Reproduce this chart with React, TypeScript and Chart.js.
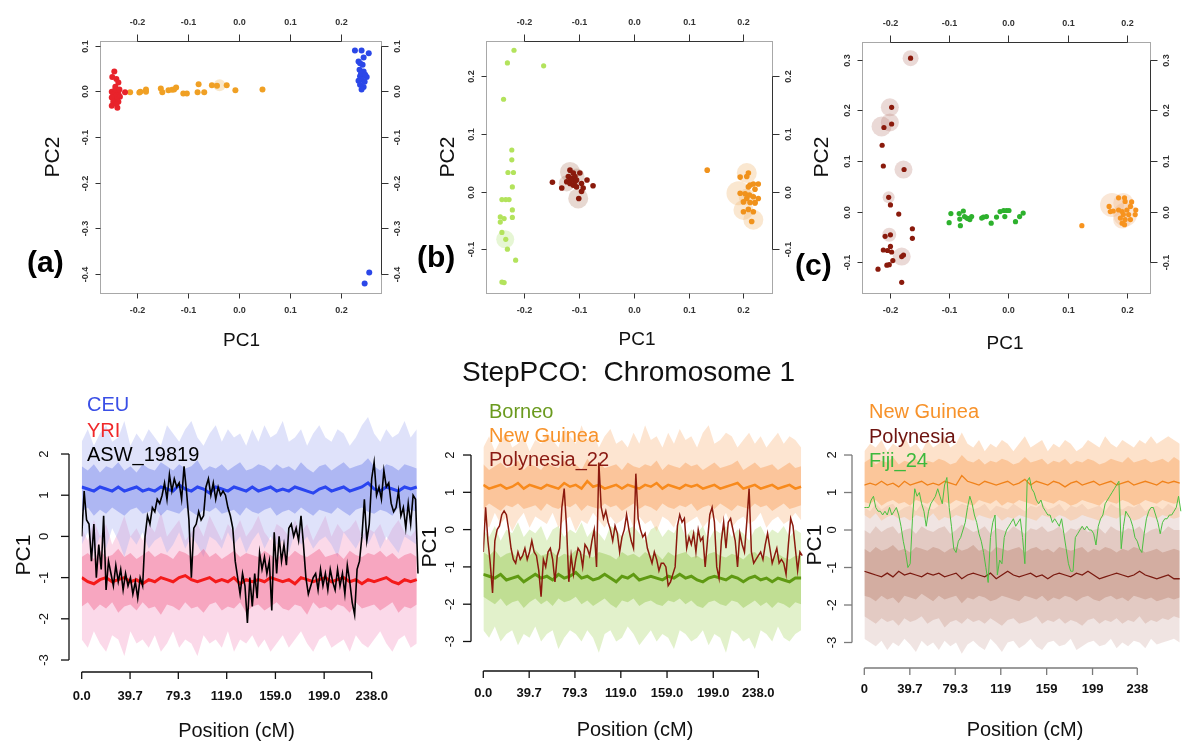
import React, { useEffect, useRef } from "react";
import { Chart, registerables } from "chart.js";
Chart.register(...registerables);

const FONT = '"Liberation Sans", Arial, Helvetica, sans-serif';

// ---------- sampling positions (cM) ----------
const seq = (start: number, step: number, n: number) =>
  Array.from({ length: n }, (_, i) => +(start + i * step).toFixed(2));
const BAND_POS = seq(0, 5, 56);
const LINE_POS = seq(0, 2, 139);

// ---------- scatter tick values ----------
const X_TICKS = [-0.2, -0.1, 0.0, 0.1, 0.2];
const A_Y_TICKS = [-0.4, -0.3, -0.2, -0.1, 0.0, 0.1];
const B_Y_TICKS = [-0.1, 0.0, 0.1, 0.2];
const C_Y_TICKS = [-0.1, 0.0, 0.1, 0.2, 0.3];

// ---------- panel (a) ----------
const A_YRI_X = [-0.244, -0.248, -0.240, -0.236, -0.242, -0.249, -0.239, -0.246, -0.236, -0.242, -0.249, -0.233, -0.239, -0.246, -0.236, -0.249, -0.240, -0.238, -0.223, -0.242, -0.234];
const A_YRI_Y = [0.043, 0.031, 0.027, 0.019, 0.010, -0.001, -0.001, -0.007, -0.005, -0.012, -0.014, -0.012, -0.019, -0.023, -0.023, -0.032, -0.028, -0.036, -0.002, 0.004, 0.004];
const A_ASW_X = [-0.213, -0.195, -0.193, -0.182, -0.182, -0.153, -0.150, -0.138, -0.131, -0.127, -0.123, -0.109, -0.102, -0.079, -0.081, -0.068, -0.053, -0.043, -0.024, -0.007, 0.046];
const A_ASW_Y = [-0.002, -0.003, -0.001, 0.004, -0.001, 0.006, -0.002, 0.002, 0.003, 0.004, 0.008, -0.005, -0.005, 0.015, -0.002, -0.002, 0.013, 0.012, 0.013, 0.002, 0.004];
const A_ASW_HALO_X = [-0.038];
const A_ASW_HALO_Y = [0.013];
const A_CEU_X = [0.227, 0.240, 0.254, 0.234, 0.244, 0.237, 0.242, 0.236, 0.244, 0.237, 0.250, 0.240, 0.234, 0.246, 0.237, 0.244, 0.240, 0.239, 0.247, 0.255, 0.246];
const A_CEU_Y = [0.089, 0.089, 0.083, 0.065, 0.074, 0.061, 0.058, 0.047, 0.043, 0.033, 0.031, 0.026, 0.023, 0.021, 0.014, 0.009, 0.004, 0.039, 0.036, -0.397, -0.421];

// ---------- panel (b) ----------
const B_BOR_X = [-0.218, -0.230, -0.164, -0.237, -0.222, -0.222, -0.229, -0.219, -0.221, -0.240, -0.233, -0.227, -0.221, -0.221, -0.243, -0.236, -0.243, -0.240, -0.233, -0.230, -0.215, -0.240, -0.236];
const B_BOR_Y = [0.245, 0.223, 0.218, 0.160, 0.072, 0.055, 0.033, 0.033, 0.008, -0.014, -0.014, -0.014, -0.032, -0.045, -0.044, -0.047, -0.053, -0.071, -0.083, -0.100, -0.119, -0.157, -0.158];
const B_BOR_HALO_X = [-0.234];
const B_BOR_HALO_Y = [-0.083];
const B_POL_X = [-0.148, -0.131, -0.116, -0.110, -0.119, -0.113, -0.107, -0.104, -0.122, -0.116, -0.110, -0.104, -0.098, -0.095, -0.092, -0.085, -0.074, -0.100, -0.095, -0.107, -0.115];
const B_POL_Y = [0.016, 0.006, 0.037, 0.032, 0.026, 0.023, 0.026, 0.020, 0.017, 0.014, 0.011, 0.008, 0.032, 0.014, 0.006, 0.020, 0.010, -0.012, 0.000, 0.017, 0.020];
const B_POL_HALO_X = [-0.116, -0.104, -0.101, -0.122];
const B_POL_HALO_Y = [0.034, 0.026, -0.012, 0.014];
const B_NG_X = [0.134, 0.194, 0.209, 0.206, 0.212, 0.218, 0.227, 0.221, 0.194, 0.203, 0.211, 0.218, 0.227, 0.206, 0.200, 0.212, 0.221, 0.209, 0.200, 0.218, 0.215, 0.221, 0.209];
const B_NG_Y = [0.037, 0.025, 0.032, 0.026, 0.011, 0.013, 0.013, 0.004, -0.003, -0.004, -0.006, -0.009, -0.012, -0.012, -0.018, -0.019, -0.019, -0.031, -0.035, -0.035, -0.052, -0.020, 0.008];
const B_NG_HALO_X = [0.206, 0.191, 0.200, 0.218, 0.206];
const B_NG_HALO_Y = [0.032, -0.003, -0.032, -0.049, -0.009];

// ---------- panel (c) ----------
const C_POL_X = [-0.165, -0.197, -0.197, -0.210, -0.213, -0.211, -0.176, -0.202, -0.199, -0.185, -0.162, -0.162, -0.199, -0.208, -0.211, -0.204, -0.199, -0.197, -0.195, -0.205, -0.201, -0.177, -0.180, -0.220, -0.180];
const C_POL_Y = [0.303, 0.206, 0.173, 0.166, 0.131, 0.090, 0.083, 0.028, 0.013, -0.005, -0.034, -0.053, -0.046, -0.049, -0.076, -0.077, -0.069, -0.080, -0.097, -0.106, -0.105, -0.086, -0.089, -0.114, -0.140];
const C_POL_HALO_X = [-0.165, -0.200, -0.200, -0.214, -0.177, -0.202, -0.201, -0.180];
const C_POL_HALO_Y = [0.303, 0.206, 0.176, 0.168, 0.083, 0.028, -0.046, -0.089];
const C_FIJ_X = [-0.100, -0.097, -0.083, -0.082, -0.076, -0.074, -0.070, -0.068, -0.065, -0.062, -0.081, -0.045, -0.042, -0.037, -0.029, -0.020, -0.014, -0.008, -0.006, -0.003, 0.001, 0.012, 0.019, 0.025];
const C_FIJ_Y = [-0.022, -0.004, -0.004, -0.015, 0.001, -0.010, -0.013, -0.014, -0.016, -0.010, -0.028, -0.013, -0.011, -0.010, -0.023, -0.011, 0.000, 0.002, -0.010, 0.002, 0.002, -0.020, -0.010, -0.003];
const C_NG_X = [0.124, 0.170, 0.186, 0.196, 0.197, 0.208, 0.177, 0.186, 0.192, 0.200, 0.206, 0.215, 0.194, 0.203, 0.214, 0.189, 0.197, 0.206, 0.192, 0.196, 0.172];
const C_NG_Y = [-0.028, 0.010, 0.027, 0.027, 0.020, 0.019, 0.001, 0.003, 0.000, 0.003, 0.010, 0.003, -0.006, -0.006, -0.006, -0.013, -0.016, -0.016, -0.023, -0.026, 0.000];
const C_NG_HALO_X = [0.175, 0.194, 0.197, 0.192];
const C_NG_HALO_Y = [0.013, 0.017, -0.006, -0.016];

// ---------- bottom tick labels ----------
const PC_Y_TICKS = [-3, -2, -1, 0, 1, 2];
const POS_TICKS = [0, 39.7, 79.3, 119, 159, 199, 238];
const POS_LABELS_1 = ["0.0", "39.7", "79.3", "119.0", "159.0", "199.0", "238.0"];
const POS_LABELS_2 = ["0", "39.7", "79.3", "119", "159", "199", "238"];

// ---------- panel (d): CEU / YRI / ASW_19819 ----------
const CEU_MEAN = [
  1.20, 1.15, 1.10, 1.20, 1.15, 1.10, 1.20, 1.10,
  1.15, 1.20, 1.10, 1.15, 1.10, 1.20, 1.15, 1.10,
  1.25, 1.15, 1.10, 1.20, 1.15, 1.05, 1.20, 1.15,
  1.10, 1.20, 1.15, 1.10, 1.20, 1.10, 1.15, 1.20,
  1.10, 1.15, 1.10, 1.20, 1.15, 1.10, 1.05, 1.15,
  1.20, 1.10, 1.15, 1.20, 1.10, 1.15, 1.20, 1.30,
  1.15, 1.10, 1.20, 1.15, 1.10, 1.20, 1.15, 1.20];
const CEU_IN_HI = [
  1.70, 1.60, 1.75, 1.55, 1.70, 1.65, 1.80, 1.60,
  1.70, 1.55, 1.75, 1.65, 1.60, 1.80, 1.70, 1.60,
  1.75, 1.65, 1.70, 1.85, 1.60, 1.70, 1.65, 1.75,
  1.60, 1.70, 1.80, 1.60, 1.65, 1.75, 1.70, 1.60,
  1.75, 1.65, 1.70, 1.60, 1.80, 1.65, 1.55, 1.70,
  1.75, 1.60, 1.70, 1.80, 1.65, 1.70, 1.75, 1.90,
  1.70, 1.60, 1.75, 1.70, 1.60, 1.75, 1.70, 1.65];
const CEU_IN_LO = [
  0.60, 0.70, 0.50, 0.65, 0.55, 0.70, 0.60, 0.50,
  0.65, 0.70, 0.55, 0.60, 0.70, 0.50, 0.65, 0.60,
  0.55, 0.70, 0.60, 0.50, 0.65, 0.60, 0.70, 0.55,
  0.60, 0.65, 0.50, 0.70, 0.60, 0.55, 0.65, 0.70,
  0.50, 0.60, 0.65, 0.55, 0.70, 0.60, 0.50, 0.65,
  0.60, 0.55, 0.70, 0.60, 0.50, 0.65, 0.70, 0.60,
  0.55, 0.65, 0.60, 0.50, 0.70, 0.60, 0.65, 0.60];
const CEU_OUT_HI = [
  2.3, 2.6, 2.2, 2.5, 2.7, 2.3, 2.4, 2.8,
  2.2, 2.5, 2.3, 2.6, 2.4, 2.2, 2.7, 2.5,
  2.3, 2.6, 2.8, 2.4, 2.2, 2.5, 2.7, 2.3,
  2.6, 2.4, 2.5, 2.2, 2.6, 2.3, 2.7, 2.4,
  2.5, 2.8, 2.3, 2.4, 2.6, 2.2, 2.5, 2.7,
  2.4, 2.3, 2.6, 2.5, 2.2, 2.4, 2.7, 2.9,
  2.5, 2.3, 2.6, 2.4, 2.5, 2.8, 2.4, 2.6];
const CEU_OUT_LO = [
  -0.2, 0.1, -0.4, 0.0, -0.3, 0.2, -0.1, -0.5,
  0.0, -0.2, 0.1, -0.3, -0.1, 0.0, -0.4, -0.2,
  0.1, -0.3, 0.0, -0.2, -0.5, 0.0, -0.1, -0.3,
  0.1, -0.2, 0.0, -0.4, -0.1, 0.1, -0.3, 0.0,
  -0.2, -0.1, -0.4, 0.1, -0.2, 0.0, -0.3, -0.1,
  0.0, -0.2, -0.5, 0.1, -0.1, -0.3, 0.0, -0.2,
  0.1, -0.3, 0.0, -0.2, -0.4, 0.0, -0.1, -0.2];
const YRI_MEAN = [
  -1.00, -1.10, -1.15, -1.05, -1.00, -1.10, -1.05, -1.00,
  -1.10, -1.05, -1.15, -1.05, -1.10, -1.00, -1.05, -1.10,
  -1.00, -0.95, -1.05, -1.10, -1.05, -1.00, -1.10, -1.05,
  -1.10, -1.00, -1.15, -1.05, -1.10, -1.05, -1.10, -1.00,
  -1.05, -1.10, -1.05, -1.15, -1.00, -1.05, -1.10, -1.05,
  -1.00, -1.10, -1.05, -1.00, -1.10, -1.05, -1.15, -1.05,
  -1.10, -1.05, -1.00, -1.10, -1.15, -1.05, -1.10, -1.05];
const YRI_IN_HI = [
  -0.50, -0.40, -0.55, -0.35, -0.50, -0.45, -0.30, -0.50,
  -0.40, -0.55, -0.45, -0.35, -0.50, -0.40, -0.45, -0.55,
  -0.35, -0.40, -0.50, -0.45, -0.30, -0.50, -0.40, -0.55,
  -0.45, -0.35, -0.50, -0.40, -0.45, -0.50, -0.35, -0.45,
  -0.55, -0.40, -0.50, -0.35, -0.45, -0.50, -0.40, -0.30,
  -0.50, -0.45, -0.40, -0.55, -0.35, -0.45, -0.50, -0.40,
  -0.45, -0.35, -0.50, -0.40, -0.55, -0.45, -0.40, -0.50];
const YRI_IN_LO = [
  -1.70, -1.60, -1.80, -1.65, -1.75, -1.60, -1.85, -1.70,
  -1.65, -1.80, -1.60, -1.75, -1.70, -1.90, -1.65, -1.70,
  -1.80, -1.60, -1.75, -1.70, -1.85, -1.65, -1.60, -1.80,
  -1.70, -1.75, -1.60, -1.85, -1.70, -1.65, -1.80, -1.70,
  -1.60, -1.75, -1.80, -1.65, -1.70, -1.90, -1.60, -1.75,
  -1.70, -1.80, -1.65, -1.70, -1.85, -1.60, -1.75, -1.70,
  -1.65, -1.80, -1.70, -1.60, -1.85, -1.70, -1.75, -1.65];
const YRI_OUT_HI = [
  0.2, -0.1, 0.4, 0.0, 0.3, -0.2, 0.1, 0.5,
  0.0, 0.2, -0.1, 0.3, 0.1, 0.6, 0.0, 0.2,
  0.4, -0.1, 0.1, 0.3, 0.0, 0.5, 0.2, -0.1,
  0.3, 0.1, 0.4, 0.0, 0.2, 0.5, 0.1, -0.1,
  0.3, 0.2, 0.0, 0.4, 0.1, 0.3, -0.1, 0.2,
  0.5, 0.0, 0.3, 0.1, 0.2, 0.4, 0.0, 0.2,
  0.1, 0.3, -0.1, 0.2, 0.4, 0.1, 0.0, 0.2];
const YRI_OUT_LO = [
  -2.5, -2.7, -2.3, -2.6, -2.8, -2.4, -2.5, -2.9,
  -2.3, -2.6, -2.5, -2.7, -2.4, -2.8, -2.6, -2.3,
  -2.7, -2.5, -2.6, -2.9, -2.4, -2.6, -2.5, -2.7,
  -2.3, -2.8, -2.5, -2.6, -2.4, -2.7, -2.5, -2.8,
  -2.6, -2.4, -2.7, -2.5, -2.3, -2.6, -2.8, -2.5,
  -2.4, -2.7, -2.6, -2.5, -2.8, -2.4, -2.6, -2.7,
  -2.5, -2.3, -2.6, -2.8, -2.5, -2.4, -2.7, -2.6];
const ASW_19819 = [
  0.0, 1.1, 0.4, 0.3, -0.6, 0.3, -1.0, -0.2, -0.8, 0.5,
  -1.3, -0.6, -0.9, -1.2, -0.7, -1.1, -0.8, -1.3, -0.9, -1.2,
  -1.0, -1.4, -1.1, -1.5, -1.0, -1.2, 0.0, 0.5, 0.3, 0.7,
  0.6, 0.9, 0.8, 1.0, 1.3, 0.9, 1.5, 1.1, 1.4, 1.2,
  1.3, 0.9, 1.7, 1.1, 0.4, -1.0, 0.2, 0.3, 0.6, 0.4,
  0.5, 1.2, 1.4, 1.0, 1.3, 0.9, 1.2, 1.0, 1.1, 1.0,
  0.7, 0.5, 0.2, -0.6, -1.0, -1.4, -0.9, -1.2, -2.1, -1.0,
  -1.7, -0.9, -1.5, -0.4, -0.8, -0.5, -0.9, -0.6, -1.8, 0.1,
  -0.9, 0.0, -0.6, -0.2, -0.7, 0.2, 0.3, 0.0, 0.2, -0.1,
  0.5, -0.2, -1.0, -1.4, -1.2, -1.0, -0.9, -1.3, -0.8, -1.2,
  -0.9, -1.3, -0.8, -1.1, -1.3, -0.8, -1.2, -0.9, -1.4, -0.7,
  -1.1, -1.6, -1.9, -0.8, -0.6, 0.0, 0.9, -0.1, 0.3, 1.4,
  1.8, 1.0, 1.2, 0.9, 1.6, 1.2, 1.3, 0.8, 0.6, 0.7,
  1.1, 0.5, 0.7, 0.2, 0.8, 0.3, 1.0, 0.9, -0.9];

// ---------- panel (e): Borneo / New Guinea / Polynesia_22 ----------
const NG2_MEAN = [
  1.20, 1.10, 1.15, 1.20, 1.10, 1.15, 1.25, 1.10,
  1.20, 1.15, 1.10, 1.20, 1.15, 1.10, 1.25, 1.15,
  1.20, 1.10, 1.30, 1.15, 1.20, 1.10, 1.15, 1.20,
  1.10, 1.20, 1.15, 1.10, 1.20, 1.15, 1.25, 1.10,
  1.20, 1.15, 1.10, 1.20, 1.15, 1.20, 1.10, 1.15,
  1.20, 1.10, 1.15, 1.20, 1.25, 1.10, 1.15, 1.20,
  1.10, 1.15, 1.20, 1.10, 1.15, 1.20, 1.10, 1.15];
const NG2_IN_HI = [
  1.75, 1.60, 1.70, 1.80, 1.65, 1.70, 1.85, 1.60,
  1.75, 1.70, 1.60, 1.80, 1.70, 1.65, 1.85, 1.70,
  1.75, 1.60, 1.90, 1.70, 1.80, 1.65, 1.70, 1.75,
  1.60, 1.80, 1.70, 1.65, 1.75, 1.70, 1.85, 1.60,
  1.75, 1.70, 1.65, 1.80, 1.70, 1.75, 1.60, 1.70,
  1.80, 1.65, 1.70, 1.75, 1.85, 1.60, 1.70, 1.80,
  1.65, 1.70, 1.75, 1.60, 1.70, 1.80, 1.65, 1.70];
const NG2_IN_LO = [
  0.55, 0.70, 0.60, 0.50, 0.65, 0.60, 0.70, 0.55,
  0.60, 0.65, 0.50, 0.70, 0.60, 0.55, 0.65, 0.60,
  0.70, 0.50, 0.65, 0.60, 0.55, 0.70, 0.60, 0.65,
  0.50, 0.60, 0.70, 0.55, 0.65, 0.60, 0.50, 0.70,
  0.60, 0.55, 0.65, 0.60, 0.70, 0.50, 0.60, 0.65,
  0.55, 0.70, 0.60, 0.50, 0.65, 0.60, 0.55, 0.70,
  0.60, 0.65, 0.50, 0.60, 0.70, 0.55, 0.60, 0.65];
const NG2_OUT_HI = [
  2.2, 2.5, 2.1, 2.4, 2.6, 2.2, 2.3, 2.5,
  2.1, 2.4, 2.3, 2.6, 2.4, 2.2, 2.7, 2.5,
  2.3, 2.8, 2.4, 2.6, 2.2, 2.5, 2.7, 2.3,
  2.4, 2.2, 2.6, 2.3, 2.8, 2.4, 2.5, 2.2,
  2.6, 2.3, 2.7, 2.4, 2.5, 2.2, 2.6, 2.8,
  2.3, 2.4, 2.6, 2.5, 2.2, 2.4, 2.6, 2.3,
  2.5, 2.2, 2.4, 2.6, 2.3, 2.5, 2.4, 2.2];
const NG2_OUT_LO = [
  0.25, 0.05, 0.45, 0.15, 0.35, -0.05, 0.25, 0.45,
  0.05, 0.35, 0.25, 0.15, 0.45, 0.05, 0.25, 0.35,
  -0.05, 0.25, 0.15, 0.45, 0.25, 0.05, 0.35, 0.15,
  0.25, 0.45, 0.05, 0.35, 0.15, 0.25, -0.05, 0.35,
  0.25, 0.05, 0.45, 0.15, 0.25, 0.35, 0.05, 0.25,
  0.35, 0.15, 0.45, 0.05, 0.25, 0.35, 0.15, 0.25,
  0.45, 0.05, 0.25, 0.35, 0.15, 0.25, 0.45, 0.25];
const BOR_MEAN = [
  -1.20, -1.25, -1.30, -1.20, -1.35, -1.30, -1.25, -1.40,
  -1.30, -1.20, -1.30, -1.25, -1.35, -1.20, -1.30, -1.25,
  -1.15, -1.30, -1.25, -1.35, -1.30, -1.20, -1.30, -1.40,
  -1.25, -1.30, -1.20, -1.35, -1.30, -1.25, -1.30, -1.35,
  -1.25, -1.30, -1.20, -1.30, -1.25, -1.35, -1.40, -1.30,
  -1.25, -1.30, -1.35, -1.25, -1.30, -1.40, -1.30, -1.25,
  -1.35, -1.30, -1.40, -1.30, -1.35, -1.40, -1.30, -1.30];
const BOR_IN_HI = [
  -0.60, -0.70, -0.55, -0.75, -0.65, -0.60, -0.80, -0.65,
  -0.70, -0.55, -0.70, -0.65, -0.60, -0.75, -0.65, -0.70,
  -0.55, -0.65, -0.70, -0.75, -0.60, -0.65, -0.70, -0.80,
  -0.60, -0.70, -0.65, -0.75, -0.60, -0.70, -0.65, -0.80,
  -0.60, -0.70, -0.65, -0.60, -0.75, -0.70, -0.80, -0.65,
  -0.60, -0.70, -0.75, -0.65, -0.70, -0.80, -0.65, -0.60,
  -0.75, -0.70, -0.80, -0.65, -0.75, -0.80, -0.70, -0.70];
const BOR_IN_LO = [
  -1.80, -1.90, -2.00, -1.85, -2.05, -1.95, -1.90, -2.10,
  -1.95, -1.85, -2.00, -1.90, -2.05, -1.85, -1.95, -1.90,
  -1.80, -2.00, -1.90, -2.05, -1.95, -1.85, -2.00, -2.10,
  -1.90, -1.95, -1.85, -2.05, -1.95, -1.90, -2.00, -2.05,
  -1.90, -1.95, -1.85, -2.00, -1.90, -2.05, -2.10, -1.95,
  -1.90, -2.00, -2.05, -1.90, -1.95, -2.10, -2.00, -1.90,
  -2.05, -1.95, -2.10, -1.95, -2.00, -2.10, -1.95, -2.00];
const BOR_OUT_HI = [
  0.0, -0.2, 0.1, -0.3, 0.0, -0.1, 0.2, -0.2,
  0.0, -0.1, 0.1, -0.3, 0.0, 0.1, -0.2, 0.0,
  -0.1, 0.2, -0.2, 0.0, -0.1, -0.3, 0.1, 0.0,
  -0.2, 0.0, 0.1, -0.1, -0.3, 0.0, 0.1, -0.2,
  0.0, -0.1, 0.2, -0.2, 0.0, -0.1, 0.1, -0.3,
  0.0, -0.1, 0.1, -0.2, 0.0, -0.1, -0.3, 0.0,
  0.1, -0.2, 0.0, -0.1, 0.1, -0.2, 0.0, -0.1];
const BOR_OUT_LO = [
  -2.7, -2.9, -2.6, -3.0, -2.8, -2.7, -3.1, -2.8,
  -2.9, -2.6, -3.0, -2.8, -2.7, -3.2, -2.9, -2.7,
  -2.8, -3.0, -2.7, -2.9, -3.3, -2.8, -2.7, -3.0,
  -2.9, -2.6, -2.8, -3.1, -2.9, -2.7, -3.0, -2.8,
  -2.9, -3.2, -2.7, -2.8, -3.0, -2.9, -2.7, -3.1,
  -2.8, -2.9, -3.3, -2.7, -2.8, -3.0, -2.9, -3.2,
  -2.7, -2.8, -3.0, -2.6, -2.9, -3.0, -2.8, -2.7];
const POLYNESIA_22 = [
  -0.6, 0.6, -0.3, -0.9, -1.7, -0.3, 0.0, 0.1, 0.4, 0.5,
  0.4, 0.0, -0.5, -0.8, -0.9, -0.6, -0.8, -0.7, -0.5, -0.8,
  -0.6, -0.3, -0.6, -0.7, -1.1, -1.8, -0.8, -1.0, -0.6, -0.5,
  -0.8, -1.4, -0.7, -0.5, 0.6, 1.1, 0.1, -1.4, -0.7, -1.2,
  -0.8, -0.5, -0.6, -1.0, -0.4, -0.5, -0.7, -0.3, 0.0, -1.0,
  1.8, 0.6, 0.3, 0.5, 0.2, 0.0, -0.3, 0.1, -0.1, -0.6,
  -0.2, 0.0, 0.4, 0.0, -0.3, -0.5, 1.5, 0.3, 0.0, -0.2,
  -0.1, -0.5, -0.7, -0.9, -0.6, -0.8, -1.1, -0.9, -0.9, -1.0,
  -1.5, -1.4, -1.2, -1.0, 0.1, 0.4, 0.2, 0.3, -0.5, -0.2,
  -0.4, -0.1, -0.6, 0.0, -0.3, -0.2, -1.0, -0.3, 0.4, 0.6,
  0.2, -1.0, -1.3, -0.3, 0.2, -0.5, 0.2, 0.3, 0.0, -0.3,
  -1.0, -0.1, -0.4, -0.6, 0.2, 1.1, -0.6, -0.9, -0.8, -0.7,
  -0.6, -0.8, -0.4, -0.1, -0.5, -0.9, -0.7, -0.5, -0.9, -0.8,
  -0.9, -1.2, -0.4, 0.3, 0.1, -0.5, -1.1, -0.6, -0.7];

// ---------- panel (f): New Guinea / Polynesia / Fiji_24 ----------
const NG3_MEAN = [
  1.20, 1.25, 1.20, 1.30, 1.20, 1.25, 1.15, 1.30,
  1.20, 1.25, 1.30, 1.20, 1.25, 1.20, 1.30, 1.25,
  1.20, 1.45, 1.30, 1.25, 1.20, 1.30, 1.25, 1.20,
  1.25, 1.30, 1.20, 1.25, 1.35, 1.20, 1.30, 1.25,
  1.20, 1.30, 1.25, 1.15, 1.25, 1.30, 1.20, 1.25,
  1.30, 1.20, 1.25, 1.30, 1.20, 1.25, 1.30, 1.20,
  1.25, 1.30, 1.25, 1.20, 1.30, 1.25, 1.30, 1.25];
const NG3_IN_HI = [
  1.80, 1.90, 1.75, 1.85, 1.80, 1.95, 1.75, 1.85,
  1.80, 1.90, 1.75, 1.85, 1.80, 1.90, 1.85, 1.75,
  1.80, 2.00, 1.85, 1.80, 1.90, 1.75, 1.85, 1.80,
  1.90, 1.85, 1.75, 1.80, 1.95, 1.80, 1.85, 1.90,
  1.75, 1.85, 1.80, 1.90, 1.75, 1.85, 1.80, 1.90,
  1.85, 1.75, 1.80, 1.90, 1.85, 1.80, 1.95, 1.80,
  1.85, 1.90, 1.80, 1.85, 1.90, 1.80, 1.95, 1.85];
const NG3_IN_LO = [
  0.75, 0.70, 0.80, 0.65, 0.75, 0.80, 0.70, 0.75,
  0.65, 0.80, 0.75, 0.70, 0.80, 0.65, 0.75, 0.70,
  0.80, 0.75, 0.70, 0.65, 0.80, 0.75, 0.70, 0.80,
  0.65, 0.75, 0.70, 0.80, 0.75, 0.70, 0.65, 0.80,
  0.75, 0.70, 0.80, 0.75, 0.65, 0.70, 0.80, 0.75,
  0.70, 0.65, 0.80, 0.75, 0.70, 0.80, 0.75, 0.65,
  0.70, 0.80, 0.75, 0.70, 0.80, 0.75, 0.70, 0.75];
const NG3_OUT_HI = [
  2.1, 2.3, 2.2, 2.4, 2.1, 2.3, 2.2, 2.5,
  2.2, 2.3, 2.1, 2.4, 2.2, 2.3, 2.5, 2.2,
  2.3, 2.6, 2.3, 2.2, 2.4, 2.1, 2.3, 2.2,
  2.4, 2.3, 2.1, 2.3, 2.5, 2.2, 2.3, 2.4,
  2.1, 2.3, 2.2, 2.4, 2.3, 2.1, 2.2, 2.4,
  2.3, 2.2, 2.5, 2.3, 2.2, 2.4, 2.3, 2.2,
  2.4, 2.3, 2.5, 2.3, 2.4, 2.5, 2.4, 2.3];
const NG3_OUT_LO = [
  0.40, 0.30, 0.45, 0.25, 0.35, 0.40, 0.30, 0.35,
  0.25, 0.40, 0.35, 0.30, 0.45, 0.25, 0.35, 0.30,
  0.40, 0.35, 0.30, 0.25, 0.40, 0.35, 0.30, 0.40,
  0.25, 0.35, 0.30, 0.40, 0.35, 0.30, 0.25, 0.40,
  0.35, 0.30, 0.40, 0.35, 0.25, 0.30, 0.40, 0.35,
  0.30, 0.25, 0.40, 0.35, 0.30, 0.40, 0.35, 0.25,
  0.30, 0.40, 0.35, 0.30, 0.40, 0.35, 0.30, 0.35];
const POL3_MEAN = [
  -1.10, -1.15, -1.20, -1.25, -1.15, -1.25, -1.10, -1.20,
  -1.15, -1.20, -1.25, -1.15, -1.20, -1.15, -1.25, -1.20,
  -1.15, -1.30, -1.20, -1.15, -1.20, -1.25, -1.15, -1.30,
  -1.20, -1.10, -1.20, -1.25, -1.20, -1.15, -1.25, -1.20,
  -1.30, -1.20, -1.15, -1.20, -1.25, -1.15, -1.20, -1.10,
  -1.20, -1.30, -1.25, -1.20, -1.15, -1.20, -1.25, -1.20,
  -1.10, -1.20, -1.25, -1.30, -1.25, -1.20, -1.30, -1.30];
const POL3_IN_HI = [
  -0.50, -0.60, -0.45, -0.55, -0.50, -0.40, -0.55, -0.50,
  -0.60, -0.45, -0.50, -0.55, -0.45, -0.50, -0.60, -0.50,
  -0.45, -0.55, -0.50, -0.40, -0.55, -0.50, -0.60, -0.45,
  -0.50, -0.55, -0.50, -0.45, -0.60, -0.50, -0.45, -0.55,
  -0.50, -0.60, -0.45, -0.50, -0.55, -0.50, -0.45, -0.60,
  -0.50, -0.55, -0.45, -0.50, -0.60, -0.50, -0.55, -0.45,
  -0.50, -0.60, -0.55, -0.50, -0.60, -0.55, -0.50, -0.55];
const POL3_IN_LO = [
  -1.75, -1.80, -1.90, -1.75, -1.85, -1.80, -1.95, -1.75,
  -1.80, -1.85, -1.70, -1.80, -1.90, -1.75, -1.85, -1.80,
  -1.75, -1.95, -1.80, -1.85, -1.75, -1.80, -1.90, -1.85,
  -1.75, -1.80, -1.85, -1.90, -1.75, -1.80, -1.85, -1.75,
  -1.90, -1.80, -1.85, -1.75, -1.80, -1.90, -1.80, -1.75,
  -1.85, -1.90, -1.80, -1.75, -1.85, -1.80, -1.90, -1.75,
  -1.80, -1.85, -1.80, -1.90, -1.85, -1.80, -1.85, -1.80];
const POL3_MID_HI = [
  0.00, -0.10, 0.10, -0.05, 0.05, 0.10, -0.10, 0.00,
  0.05, -0.10, 0.10, 0.00, -0.05, 0.05, 0.10, -0.10,
  0.00, 0.15, 0.05, -0.05, 0.00, 0.10, -0.10, 0.05,
  0.00, -0.05, 0.10, 0.00, -0.10, 0.05, 0.00, 0.10,
  -0.05, 0.00, 0.10, -0.10, 0.05, 0.00, 0.10, -0.05,
  0.00, 0.05, -0.10, 0.10, 0.00, -0.05, 0.05, 0.00,
  0.10, -0.10, 0.00, 0.05, -0.05, 0.10, 0.00, 0.00];
const POL3_MID_LO = [
  -2.30, -2.40, -2.50, -2.35, -2.45, -2.40, -2.55, -2.35,
  -2.45, -2.40, -2.30, -2.50, -2.40, -2.35, -2.60, -2.45,
  -2.40, -2.50, -2.35, -2.45, -2.40, -2.50, -2.35, -2.45,
  -2.55, -2.40, -2.35, -2.50, -2.45, -2.40, -2.30, -2.50,
  -2.40, -2.45, -2.35, -2.50, -2.40, -2.45, -2.55, -2.40,
  -2.35, -2.50, -2.40, -2.45, -2.35, -2.50, -2.40, -2.45,
  -2.30, -2.50, -2.40, -2.45, -2.35, -2.40, -2.30, -2.35];
const POL3_OUT_HI = [
  0.60, 0.50, 0.70, 0.55, 0.65, 0.70, 0.50, 0.60,
  0.65, 0.50, 0.70, 0.60, 0.55, 0.65, 0.75, 0.50,
  0.60, 0.70, 0.65, 0.55, 0.60, 0.70, 0.50, 0.65,
  0.60, 0.55, 0.70, 0.60, 0.50, 0.65, 0.60, 0.70,
  0.55, 0.60, 0.70, 0.50, 0.65, 0.60, 0.70, 0.55,
  0.60, 0.65, 0.50, 0.70, 0.60, 0.55, 0.65, 0.60,
  0.70, 0.50, 0.60, 0.65, 0.55, 0.70, 0.60, 0.60];
const POL3_OUT_LO = [
  -2.90, -3.00, -3.10, -2.95, -3.20, -3.00, -3.10, -2.90,
  -3.05, -3.25, -2.95, -3.10, -3.00, -3.20, -2.95, -3.10,
  -3.00, -3.30, -3.05, -2.95, -3.10, -3.20, -2.90, -3.05,
  -3.25, -3.00, -2.95, -3.15, -3.05, -2.90, -3.10, -3.20,
  -3.00, -2.95, -3.10, -3.05, -2.90, -3.20, -3.10, -3.00,
  -2.95, -3.10, -3.05, -2.90, -3.15, -3.00, -3.10, -2.95,
  -3.00, -3.15, -2.90, -3.05, -3.00, -2.95, -2.90, -3.00];
const FIJI_24 = [
  0.6, 0.6, 0.6, 0.8, 0.9, 0.6, 0.5, 0.5, 0.4, 0.5,
  0.4, 0.6, 0.4, 0.5, 0.6, 0.4, 0.1, -0.3, -0.6, -1.0,
  -0.9, 0.3, 1.1, 0.9, 1.0, 0.7, 0.5, 0.1, 0.5, 0.7,
  0.8, 0.9, 1.1, 0.9, 0.7, 1.2, 1.4, 0.6, 0.1, -0.5,
  -0.6, -0.3, -0.2, 0.0, 0.2, 0.6, 0.9, 0.7, 0.4, 0.2,
  -0.1, -0.3, -0.6, -1.0, -1.4, -0.2, 0.2, 0.4, -1.2, -0.8,
  -0.9, -0.2, 0.0, 0.1, 0.2, 0.3, 0.1, 0.2, 0.3, -0.2,
  -0.9, 1.3, 1.4, 1.1, 1.0, 0.8, 0.7, 0.8, 0.6, 0.5,
  0.4, 0.4, 0.2, 0.3, 0.2, 0.1, 0.3, -0.1, -0.5, -0.9,
  -1.1, -1.1, -0.2, -0.1, 0.0, 0.1, 0.0, 0.1, 0.0, 0.0,
  -0.1, -0.4, 0.1, 0.3, 0.4, 0.7, 0.8, 0.9, 1.0, 1.1,
  1.2, 1.3, -0.5, 0.1, 0.5, 0.4, 0.3, 0.1, -0.2, -0.3,
  -0.5, -0.6, -0.1, 0.3, 0.5, 0.6, 0.6, 0.4, 0.2, -0.1,
  0.2, 0.3, 0.3, 0.4, 0.4, 0.5, 0.6, 0.9, 0.5];

// ================= helpers =================
const pts = (xs: number[], ys: number[]) => xs.map((x, i) => ({ x, y: ys[i] }));

function seg(ctx: any, x1: number, y1: number, x2: number, y2: number) {
  ctx.beginPath();
  ctx.moveTo(x1, y1);
  ctx.lineTo(x2, y2);
  ctx.stroke();
}
function txt(ctx: any, s: string, x: number, y: number, font: string, color: string, align = "center") {
  ctx.font = font;
  ctx.fillStyle = color;
  ctx.textAlign = align;
  ctx.textBaseline = "middle";
  ctx.fillText(s, x, y);
}
function rtxt(ctx: any, s: string, x: number, y: number, font: string, color: string) {
  ctx.save();
  ctx.translate(x, y);
  ctx.rotate(-Math.PI / 2);
  txt(ctx, s, 0, 0, font, color);
  ctx.restore();
}

// ================= scatter panels =================
const PANEL_A = {
  x: 0, y: 0, w: 400, h: 360,
  area: { l: 100, t: 41, r: 381, b: 293 },
  xr: [-0.272, 0.278], yr: [-0.442, 0.11], yTicks: A_Y_TICKS,
  groups: [
    { xs: A_YRI_X, ys: A_YRI_Y, color: "#e8232b", r: 3 },
    { xs: A_ASW_X, ys: A_ASW_Y, color: "#f0a024", r: 3 },
    { xs: A_CEU_X, ys: A_CEU_Y, color: "#2b47e8", r: 3 },
  ],
  halos: [{ xs: A_ASW_HALO_X, ys: A_ASW_HALO_Y, color: "rgba(240,195,120,0.4)", r: [6] }],
  letter: { text: "(a)", x: 27, y: 264 },
  pc2: { x: 53.5, y: 157 }, pc1: { x: 241.5, y: 341 },
};
const PANEL_B = {
  x: 400, y: 0, w: 400, h: 360,
  area: { l: 486, t: 41, r: 772, b: 293 },
  xr: [-0.269, 0.252], yr: [-0.176, 0.261], yTicks: B_Y_TICKS,
  groups: [
    { xs: B_BOR_X, ys: B_BOR_Y, color: "#b3e35c", r: 2.6 },
    { xs: B_POL_X, ys: B_POL_Y, color: "#8a1a0c", r: 2.8 },
    { xs: B_NG_X, ys: B_NG_Y, color: "#f0921c", r: 2.8 },
  ],
  halos: [
    { xs: B_BOR_HALO_X, ys: B_BOR_HALO_Y, color: "rgba(200,235,160,0.45)", r: [9] },
    { xs: B_POL_HALO_X, ys: B_POL_HALO_Y, color: "rgba(170,115,90,0.28)", r: [10, 8, 10, 8] },
    { xs: B_NG_HALO_X, ys: B_NG_HALO_Y, color: "rgba(240,180,110,0.32)", r: [10, 12, 10, 10, 8] },
  ],
  letter: { text: "(b)", x: 417, y: 259 },
  pc2: { x: 448, y: 157 }, pc1: { x: 637, y: 340 },
};
const PANEL_C = {
  x: 790, y: 0, w: 410, h: 360,
  area: { l: 862, t: 42, r: 1150, b: 293 },
  xr: [-0.247, 0.239], yr: [-0.161, 0.335], yTicks: C_Y_TICKS,
  groups: [
    { xs: C_POL_X, ys: C_POL_Y, color: "#8a1a0c", r: 2.6 },
    { xs: C_FIJ_X, ys: C_FIJ_Y, color: "#2db12d", r: 2.6 },
    { xs: C_NG_X, ys: C_NG_Y, color: "#f7931e", r: 2.6 },
  ],
  halos: [
    { xs: C_POL_HALO_X, ys: C_POL_HALO_Y, color: "rgba(185,130,120,0.3)", r: [8, 9, 9, 10, 9, 6, 7, 9] },
    { xs: C_NG_HALO_X, ys: C_NG_HALO_Y, color: "rgba(240,180,130,0.32)", r: [12, 10, 12, 9] },
  ],
  letter: { text: "(c)", x: 795, y: 267 },
  pc2: { x: 822, y: 157 }, pc1: { x: 1005, y: 344 },
};

function scatterConfig(p: any) {
  const datasets: any[] = [];
  p.groups.forEach((g: any) =>
    datasets.push({ data: pts(g.xs, g.ys), backgroundColor: g.color, borderWidth: 0, pointRadius: g.r, order: 0 })
  );
  p.halos.forEach((h: any) =>
    datasets.push({ data: pts(h.xs, h.ys), backgroundColor: h.color, borderWidth: 0, pointRadius: h.r, order: 1 })
  );
  const deco = {
    id: "deco",
    afterDraw(chart: any) {
      const ctx = chart.ctx;
      const { left, right, top, bottom } = chart.chartArea;
      const sx = chart.scales.x, sy = chart.scales.y;
      const ox = p.x, oy = p.y;
      ctx.save();
      ctx.lineWidth = 1;
      const L = Math.round(left) + 0.5, R = Math.round(right) + 0.5;
      const T = Math.round(top) + 0.5, B = Math.round(bottom) + 0.5;
      ctx.strokeStyle = "#a8a8a8";
      ctx.strokeRect(L, T, R - L, B - T);
      ctx.strokeStyle = "#333";
      const xt = X_TICKS.map((v) => Math.round(sx.getPixelForValue(v)) + 0.5);
      const yt = p.yTicks.map((v: number) => Math.round(sy.getPixelForValue(v)) + 0.5);
      seg(ctx, xt[0], T, xt[xt.length - 1], T);
      seg(ctx, R, Math.min(...yt), R, Math.max(...yt));
      xt.forEach((px) => {
        seg(ctx, px, B, px, B + 5);
        seg(ctx, px, T, px, T - 7);
      });
      yt.forEach((py: number) => {
        seg(ctx, L, py, L - 5, py);
        seg(ctx, R, py, R + 7, py);
      });
      const tf = `bold 9px ${FONT}`;
      X_TICKS.forEach((v, i) => {
        txt(ctx, v.toFixed(1), xt[i], B + 17, tf, "#333");
        txt(ctx, v.toFixed(1), xt[i], T - 19, tf, "#333");
      });
      p.yTicks.forEach((v: number, i: number) => {
        rtxt(ctx, v.toFixed(1), L - 15, yt[i], tf, "#333");
        rtxt(ctx, v.toFixed(1), R + 16, yt[i], tf, "#333");
      });
      rtxt(ctx, "PC2", p.pc2.x - ox, p.pc2.y - oy, `21px ${FONT}`, "#111");
      txt(ctx, "PC1", p.pc1.x - ox, p.pc1.y - oy, `19px ${FONT}`, "#111");
      txt(ctx, p.letter.text, p.letter.x - ox, p.letter.y - oy, `bold 30px ${FONT}`, "#000", "left");
      ctx.restore();
    },
  };
  return {
    type: "scatter",
    data: { datasets },
    options: {
      responsive: false,
      animation: false,
      events: [],
      layout: {
        padding: {
          left: p.area.l - p.x, top: p.area.t - p.y,
          right: p.x + p.w - p.area.r, bottom: p.y + p.h - p.area.b,
        },
      },
      scales: {
        x: { type: "linear", display: false, min: p.xr[0], max: p.xr[1] },
        y: { type: "linear", display: false, min: p.yr[0], max: p.yr[1] },
      },
      plugins: { legend: { display: false }, tooltip: { enabled: false } },
    },
    plugins: [deco],
  };
}

// ================= line (StepPCO) panels =================
const lineDs = (xs: number[], ys: number[], color: string, width: number, order: number) => ({
  data: pts(xs, ys), borderColor: color, borderWidth: width, pointRadius: 0, fill: false, tension: 0, order,
});
const bandDs = (hi: number[], lo: number[], color: string, order: number) => [
  { data: pts(BAND_POS, hi), borderWidth: 0, borderColor: "rgba(0,0,0,0)", pointRadius: 0, fill: "+1", backgroundColor: color, tension: 0, order },
  { data: pts(BAND_POS, lo), borderWidth: 0, borderColor: "rgba(0,0,0,0)", pointRadius: 0, fill: false, tension: 0, order },
];

const PANEL_D = {
  x: 0, y: 380, w: 425, h: 371,
  area: { l: 81.7, t: 400, r: 419.2, b: 672 },
  xr: [0, 277], yr: [-3.291, 3.311],
  axisX: 69, yLabX: 44, axisY: 672, xLabY: 696.5, axisColor: "#111", labelColor: "#111",
  xLabels: POS_LABELS_1,
  pc1: { x: 24.5, y: 555 }, pos: { x: 236.5, y: 731 },
  legendX: 87,
  legend: [
    { text: "CEU", color: "#3a4fe6", y: 405 },
    { text: "YRI", color: "#f0282a", y: 431 },
    { text: "ASW_19819", color: "#000", y: 455 },
  ],
  datasets: () => [
    lineDs(LINE_POS, ASW_19819, "#000", 1.6, 0),
    lineDs(BAND_POS, CEU_MEAN, "#2a45f0", 3, 1),
    lineDs(BAND_POS, YRI_MEAN, "#f41a1a", 3, 1),
    ...bandDs(CEU_IN_HI, CEU_IN_LO, "rgba(115,130,235,0.45)", 2),
    ...bandDs(YRI_IN_HI, YRI_IN_LO, "rgba(240,95,135,0.42)", 2),
    ...bandDs(CEU_OUT_HI, CEU_OUT_LO, "rgba(170,178,242,0.38)", 3),
    ...bandDs(YRI_OUT_HI, YRI_OUT_LO, "rgba(245,160,200,0.40)", 3),
  ],
};
const PANEL_E = {
  x: 415, y: 380, w: 400, h: 371,
  area: { l: 483.3, t: 400, r: 803.4, b: 671 },
  xr: [0, 277], yr: [-3.791, 3.475],
  axisX: 471, yLabX: 450, axisY: 671, xLabY: 693, axisColor: "#111", labelColor: "#111",
  xLabels: POS_LABELS_1,
  pc1: { x: 430, y: 547 }, pos: { x: 635, y: 730 },
  legendX: 489,
  legend: [
    { text: "Borneo", color: "#6a9a1e", y: 412 },
    { text: "New Guinea", color: "#f7922a", y: 436 },
    { text: "Polynesia_22", color: "#8b1a12", y: 460 },
  ],
  datasets: () => [
    lineDs(LINE_POS, POLYNESIA_22, "#8b1a0e", 1.5, 0),
    lineDs(BAND_POS, NG2_MEAN, "#f88a1c", 2.5, 1),
    lineDs(BAND_POS, BOR_MEAN, "#5f9a12", 3, 1),
    ...bandDs(NG2_IN_HI, NG2_IN_LO, "rgba(248,160,90,0.45)", 2),
    ...bandDs(BOR_IN_HI, BOR_IN_LO, "rgba(150,200,80,0.45)", 2),
    ...bandDs(NG2_OUT_HI, NG2_OUT_LO, "rgba(250,190,140,0.40)", 3),
    ...bandDs(BOR_OUT_HI, BOR_OUT_LO, "rgba(190,225,140,0.45)", 3),
  ],
};
const PANEL_F = {
  x: 800, y: 380, w: 400, h: 371,
  area: { l: 864.3, t: 400, r: 1182, b: 668 },
  xr: [0, 277], yr: [-3.68, 3.467],
  axisX: 852, yLabX: 832, axisY: 668, xLabY: 689, axisColor: "#7a7a7a", labelColor: "#111",
  xLabels: POS_LABELS_2,
  pc1: { x: 815, y: 545 }, pos: { x: 1025, y: 730 },
  legendX: 869,
  legend: [
    { text: "New Guinea", color: "#f7922a", y: 412 },
    { text: "Polynesia", color: "#6e1410", y: 437 },
    { text: "Fiji_24", color: "#3cb93c", y: 461 },
  ],
  datasets: () => [
    lineDs(LINE_POS, FIJI_24, "#4cc042", 1, 0),
    lineDs(BAND_POS, NG3_MEAN, "#f0821a", 1.3, 1),
    lineDs(BAND_POS, POL3_MEAN, "#7a1a10", 1.3, 1),
    ...bandDs(NG3_IN_HI, NG3_IN_LO, "rgba(248,165,95,0.45)", 2),
    ...bandDs(POL3_IN_HI, POL3_IN_LO, "rgba(185,125,105,0.38)", 2),
    ...bandDs(NG3_OUT_HI, NG3_OUT_LO, "rgba(250,190,140,0.45)", 3),
    ...bandDs(POL3_MID_HI, POL3_MID_LO, "rgba(200,150,135,0.33)", 3),
    ...bandDs(POL3_OUT_HI, POL3_OUT_LO, "rgba(215,185,180,0.38)", 4),
  ],
};

function lineConfig(p: any) {
  const deco = {
    id: "deco",
    afterDraw(chart: any) {
      const ctx = chart.ctx;
      const sx = chart.scales.x, sy = chart.scales.y;
      const ox = p.x, oy = p.y;
      ctx.save();
      ctx.lineWidth = 1.3;
      ctx.strokeStyle = p.axisColor;
      const ax = p.axisX - ox;
      const yp = PC_Y_TICKS.map((v) => sy.getPixelForValue(v));
      seg(ctx, ax, Math.min(...yp), ax, Math.max(...yp));
      PC_Y_TICKS.forEach((v, i) => {
        seg(ctx, ax, yp[i], ax - 8, yp[i]);
        rtxt(ctx, String(v), p.yLabX - ox, yp[i], `13px ${FONT}`, p.labelColor);
      });
      const ay = p.axisY - oy;
      const xp = POS_TICKS.map((v) => sx.getPixelForValue(v));
      seg(ctx, xp[0], ay, xp[xp.length - 1], ay);
      POS_TICKS.forEach((v, i) => {
        seg(ctx, xp[i], ay, xp[i], ay + 7);
        txt(ctx, p.xLabels[i], xp[i], p.xLabY - oy, `bold 13px ${FONT}`, p.labelColor);
      });
      rtxt(ctx, "PC1", p.pc1.x - ox, p.pc1.y - oy, `21px ${FONT}`, "#111");
      txt(ctx, "Position (cM)", p.pos.x - ox, p.pos.y - oy, `20px ${FONT}`, "#111");
      p.legend.forEach((it: any) => txt(ctx, it.text, p.legendX - ox, it.y - oy, `20px ${FONT}`, it.color, "left"));
      ctx.restore();
    },
  };
  return {
    type: "line",
    data: { datasets: p.datasets() },
    options: {
      responsive: false,
      animation: false,
      events: [],
      layout: {
        padding: {
          left: p.area.l - p.x, top: p.area.t - p.y,
          right: p.x + p.w - p.area.r, bottom: p.y + p.h - p.area.b,
        },
      },
      scales: {
        x: { type: "linear", display: false, min: p.xr[0], max: p.xr[1] },
        y: { type: "linear", display: false, min: p.yr[0], max: p.yr[1] },
      },
      plugins: { legend: { display: false }, tooltip: { enabled: false }, filler: { propagate: false } },
    },
    plugins: [deco],
  };
}

function Panel({ spec, make }: { spec: any; make: (p: any) => any }) {
  const ref = useRef<HTMLCanvasElement>(null);
  useEffect(() => {
    const chart = new Chart(ref.current as HTMLCanvasElement, make(spec) as any);
    return () => chart.destroy();
  }, []);
  return (
    <canvas
      ref={ref}
      width={spec.w}
      height={spec.h}
      style={{ position: "absolute", left: spec.x, top: spec.y, width: spec.w, height: spec.h }}
    />
  );
}

export default function App() {
  return (
    <div style={{ position: "absolute", left: 0, top: 0, width: 1200, height: 751, background: "#fff", overflow: "hidden" }}>
      <Panel spec={PANEL_A} make={scatterConfig} />
      <Panel spec={PANEL_B} make={scatterConfig} />
      <Panel spec={PANEL_C} make={scatterConfig} />
      <Panel spec={PANEL_D} make={lineConfig} />
      <Panel spec={PANEL_E} make={lineConfig} />
      <Panel spec={PANEL_F} make={lineConfig} />
      <div
        style={{
          position: "absolute", left: 462, top: 358, fontFamily: FONT, fontSize: 28,
          lineHeight: "28px", color: "#111", whiteSpace: "pre",
        }}
      >
        {"StepPCO:  Chromosome 1"}
      </div>
    </div>
  );
}
